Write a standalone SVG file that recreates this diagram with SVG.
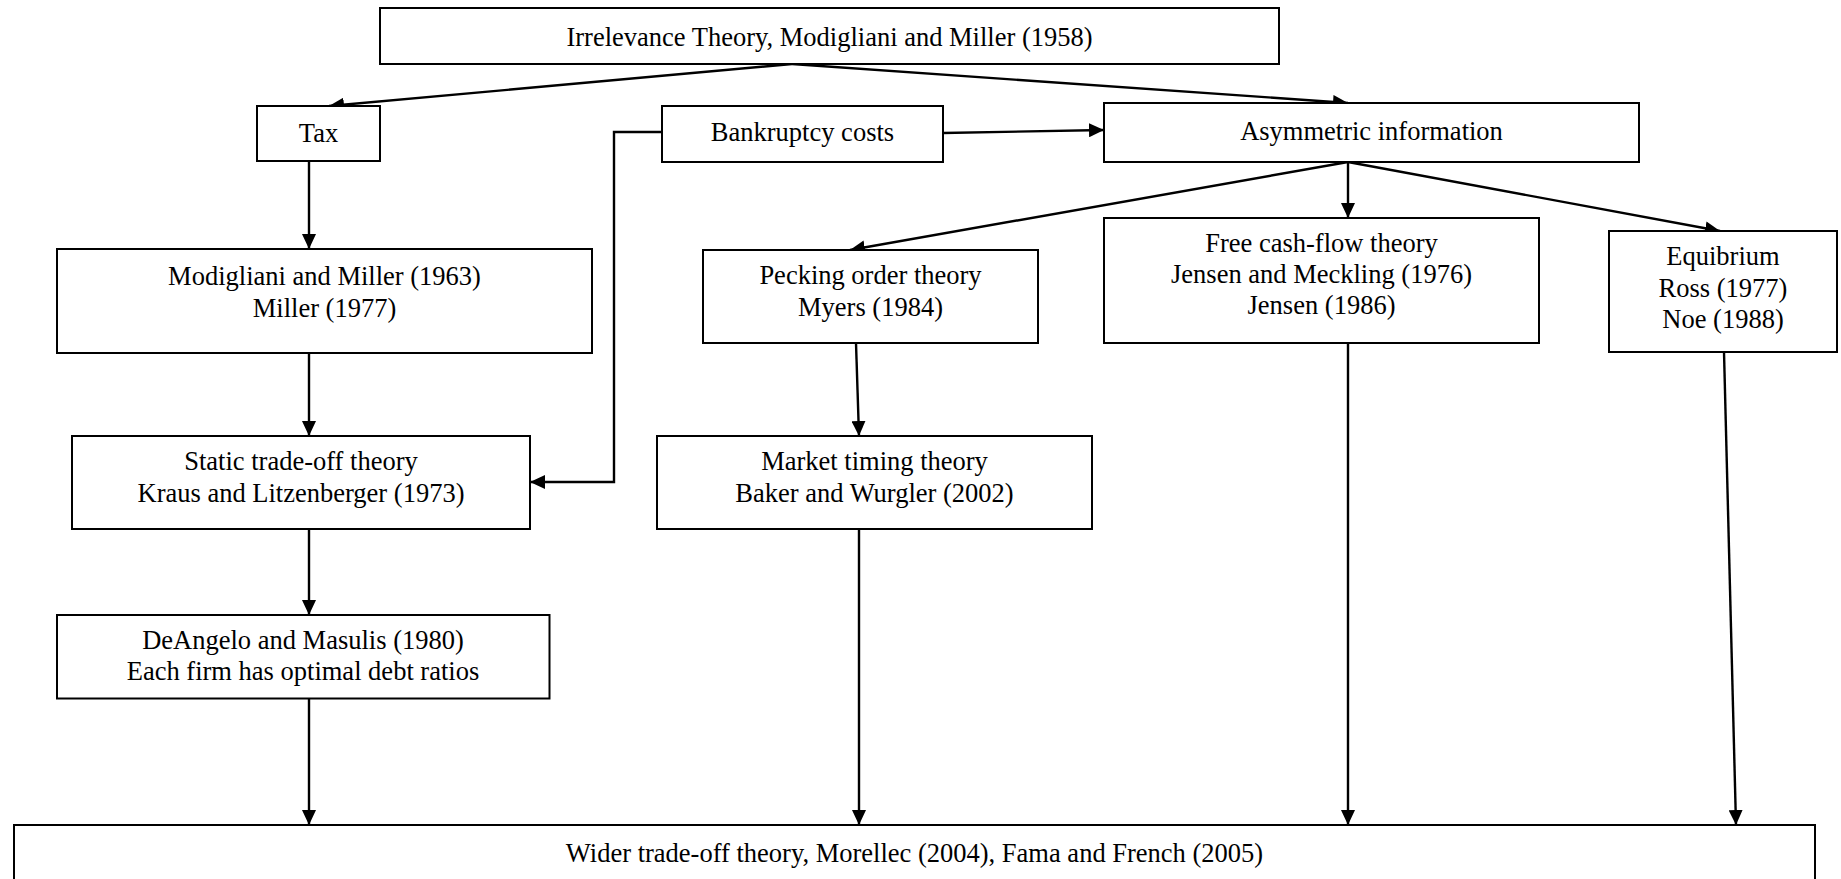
<svg xmlns="http://www.w3.org/2000/svg" width="1841" height="879" viewBox="0 0 1841 879">
<defs>
<style>
rect.box{fill:#fff;stroke:#000;stroke-width:2}
text{font-family:"Liberation Serif","Times New Roman",serif;font-size:26.5px;fill:#000;text-anchor:middle}
.conn line,.conn polyline{stroke:#000;stroke-width:2.4;fill:none;marker-end:url(#arr)}
</style>
<marker id="arr" markerUnits="userSpaceOnUse" markerWidth="16" markerHeight="14" refX="15" refY="7" orient="auto">
<path d="M0,0 L15,7 L0,14 z" fill="#000"/>
</marker>
</defs>
<rect width="1841" height="879" fill="#fff"/>
<g class="conn" id="connectors">
<line x1="792" y1="64" x2="329" y2="106"/>
<line x1="792" y1="64" x2="1348" y2="103"/>
<line x1="943" y1="133" x2="1104" y2="130"/>
<polyline points="662,132 614,132 614,482 530,482"/>
<line x1="309" y1="161" x2="309" y2="249"/>
<line x1="309" y1="353" x2="309" y2="436"/>
<line x1="309" y1="529" x2="309" y2="615"/>
<line x1="309" y1="698" x2="309" y2="825"/>
<line x1="1348" y1="162" x2="850" y2="250"/>
<line x1="1348" y1="162" x2="1348" y2="218"/>
<line x1="1348" y1="162" x2="1720" y2="231"/>
<line x1="856" y1="343" x2="859" y2="436"/>
<line x1="859" y1="529" x2="859" y2="825"/>
<line x1="1348" y1="343" x2="1348" y2="825"/>
<line x1="1724" y1="352" x2="1736" y2="825"/>
</g>
<g id="top"><rect class="box" x="380" y="8" width="899" height="56"/><text x="829.5" y="46">Irrelevance Theory, Modigliani and Miller (1958)</text></g>
<g id="tax"><rect class="box" x="257" y="106" width="123" height="55"/><text x="318.5" y="142">Tax</text></g>
<g id="bankruptcy"><rect class="box" x="662" y="106" width="281" height="56"/><text x="802.5" y="141">Bankruptcy costs</text></g>
<g id="asymmetric"><rect class="box" x="1104" y="103" width="535" height="59"/><text x="1371.5" y="140">Asymmetric information</text></g>
<g id="mm1963"><rect class="box" x="57" y="249" width="535" height="104"/><text x="324.5" y="284.5">Modigliani and Miller (1963)</text><text x="324.5" y="317">Miller (1977)</text></g>
<g id="static"><rect class="box" x="72" y="436" width="458" height="93"/><text x="301" y="470">Static trade-off theory</text><text x="301" y="502">Kraus and Litzenberger (1973)</text></g>
<g id="deangelo"><rect class="box" x="57" y="615" width="492.5" height="83.5"/><text x="303" y="649">DeAngelo and Masulis (1980)</text><text x="303" y="680">Each firm has optimal debt ratios</text></g>
<g id="pecking"><rect class="box" x="703" y="250" width="335" height="93"/><text x="870.5" y="284">Pecking order theory</text><text x="870.5" y="316">Myers (1984)</text></g>
<g id="market"><rect class="box" x="657" y="436" width="435" height="93"/><text x="874.5" y="470">Market timing theory</text><text x="874.5" y="502">Baker and Wurgler (2002)</text></g>
<g id="freecash"><rect class="box" x="1104" y="218" width="435" height="125"/><text x="1321.5" y="251.5">Free cash-flow theory</text><text x="1321.5" y="283">Jensen and Meckling (1976)</text><text x="1321.5" y="314">Jensen (1986)</text></g>
<g id="equibrium"><rect class="box" x="1609" y="231" width="228" height="121"/><text x="1723" y="265">Equibrium</text><text x="1723" y="297">Ross (1977)</text><text x="1723" y="328">Noe (1988)</text></g>
<g id="wider"><rect class="box" x="14" y="825" width="1801" height="80"/><text x="914.5" y="861.5">Wider trade-off theory, Morellec (2004), Fama and French (2005)</text></g>
</svg>
